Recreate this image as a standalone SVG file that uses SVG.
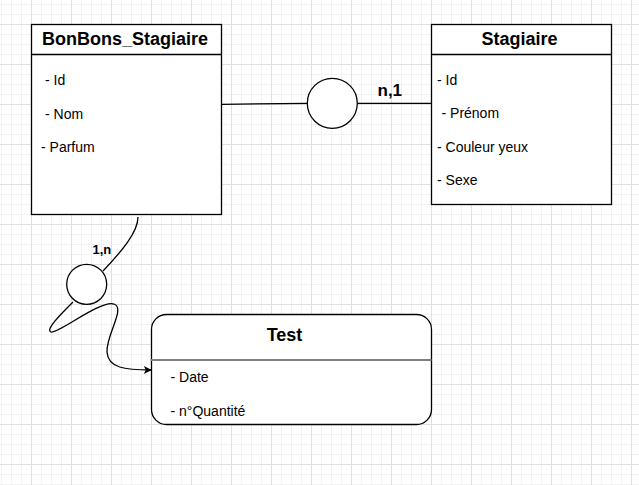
<svg xmlns="http://www.w3.org/2000/svg" width="639" height="485" viewBox="0 0 639 485">
<defs>
<pattern id="minor" width="10" height="10" patternUnits="userSpaceOnUse" x="1" y="4">
<path d="M0.5,0 V10 M0,0.5 H10" fill="none" stroke="#f2f2f2" stroke-width="1"/>
</pattern>
<pattern id="major" width="40" height="40" patternUnits="userSpaceOnUse" x="31" y="24">
<path d="M0.5,0 V40 M0,0.5 H40" fill="none" stroke="#e0e0e0" stroke-width="1"/>
</pattern>
<marker id="arrow" viewBox="0 0 10 10" refX="9" refY="5" markerWidth="9" markerHeight="8" markerUnits="userSpaceOnUse" orient="auto">
<path d="M0,0 L10,5 L0,10 L2.5,5 Z" fill="#000"/>
</marker>
</defs>
<style>
.box{fill:#fff;stroke:#000;stroke-width:1.3}
.sep{stroke:#000;stroke-width:1.3}
.title{font-family:"Liberation Sans",Arial,sans-serif;font-weight:bold;font-size:18px;fill:#000;text-anchor:middle}
.item{font-family:"Liberation Sans",Arial,sans-serif;font-size:14px;fill:#000}
.lbl{font-family:"Liberation Sans",Arial,sans-serif;font-weight:bold;fill:#000}
.edge{fill:none;stroke:#000;stroke-width:1.3}
.circ{fill:#fff;stroke:#000;stroke-width:1.3}
</style>
<rect width="639" height="485" fill="#fff"/>
<rect width="639" height="485" fill="url(#minor)"/>
<rect width="639" height="485" fill="url(#major)"/>

<g id="connectors">
<path class="edge" d="M221.5,104.3 L307.3,103.3"/>
<path class="edge" d="M357.3,103.3 L433,103.3"/>
<path class="edge" d="M138,217 C138,232 122,251 103,271"/>
<path class="edge" d="M73,302 C60,315 45,330 51,332 C58,334 100,300 114,304 C126,308 106,335 107,352 C108,368 125,370 151,370" marker-end="url(#arrow)"/>
<text class="lbl" x="377.5" y="95.5" font-size="17">n,1</text>
<text class="lbl" x="92.5" y="253.5" font-size="13">1,n</text>
</g>

<g id="rel1">
<circle class="circ" cx="332.3" cy="103.3" r="25"/>
</g>
<g id="rel2">
<circle class="circ" cx="86.7" cy="284.3" r="20"/>
</g>

<g id="bonbons">
<rect class="box" x="31.5" y="24.5" width="190" height="190"/>
<line class="sep" x1="31.5" y1="54.5" x2="221.5" y2="54.5"/>
<text class="title" x="125" y="45">BonBons_Stagiaire</text>
<text class="item" x="45" y="85">- Id</text>
<text class="item" x="45" y="118.5">- Nom</text>
<text class="item" x="41" y="152">- Parfum</text>
</g>

<g id="stagiaire">
<rect class="box" x="431.5" y="24.5" width="180" height="180"/>
<line class="sep" x1="431.5" y1="54.5" x2="611.5" y2="54.5"/>
<text class="title" x="519.5" y="45">Stagiaire</text>
<text class="item" x="437" y="84.5">- Id</text>
<text class="item" x="441.5" y="118">- Prénom</text>
<text class="item" x="437" y="151.5">- Couleur yeux</text>
<text class="item" x="437" y="185">- Sexe</text>
</g>

<g id="test">
<rect class="box" x="151.5" y="314.5" width="280" height="110" rx="15" ry="15"/>
<line x1="150.5" y1="360" x2="431.5" y2="360" stroke="#808080" stroke-width="1.8"/>
<text class="title" x="284.5" y="341">Test</text>
<text class="item" x="170.5" y="382">- Date</text>
<text class="item" x="170.5" y="416">- n°Quantité</text>
</g>
</svg>
